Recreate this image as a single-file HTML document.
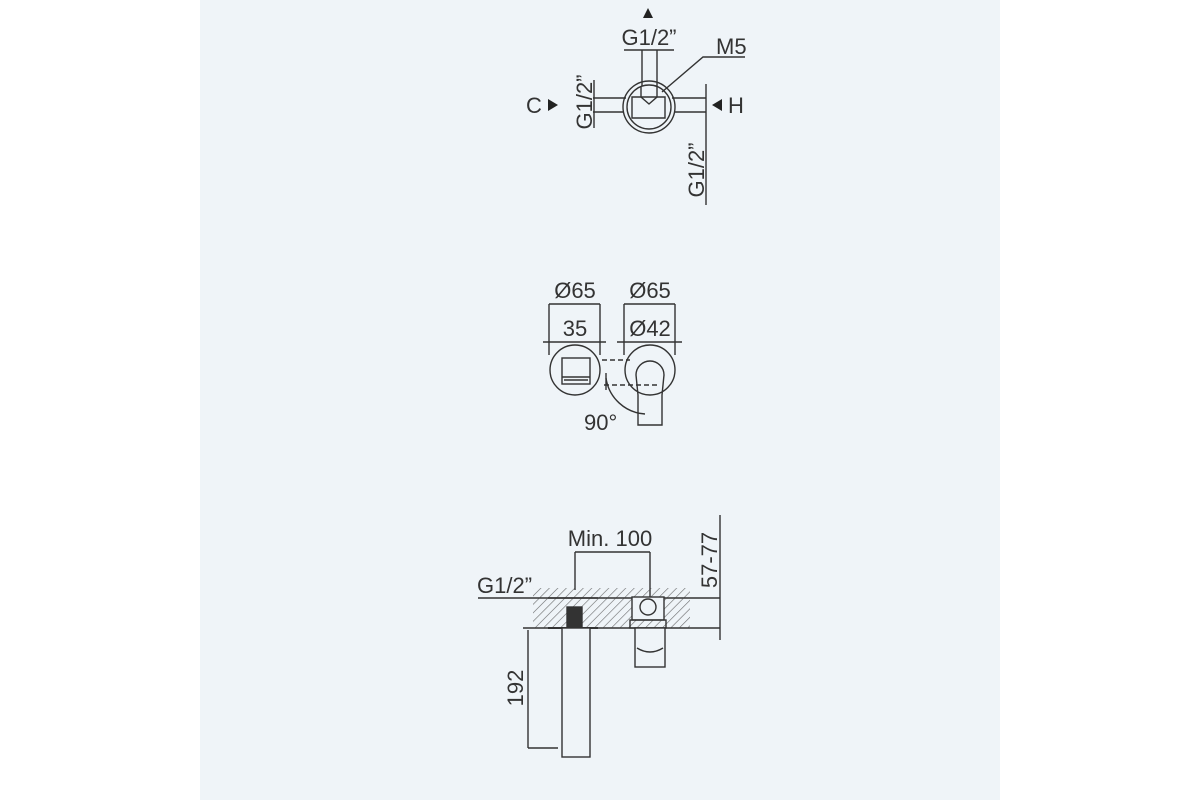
<!DOCTYPE html>
<html><head><style>
html,body{margin:0;padding:0;background:#fff;}
body{width:1200px;height:800px;position:relative;overflow:hidden;}
#p{position:absolute;left:200px;top:0;width:800px;height:800px;background:#eff4f8;}
svg{position:absolute;left:0;top:0;}
text{font-family:"Liberation Sans",sans-serif;fill:#333;}
</style></head><body>
<div id="p"></div>
<svg width="1200" height="800" viewBox="0 0 1200 800">
<defs>
<pattern id="h" width="6" height="6" patternUnits="userSpaceOnUse" patternTransform="rotate(45)">
<line x1="0" y1="0" x2="0" y2="6" stroke="#444" stroke-width="1.2"/>
</pattern>
</defs>
<g stroke="#333" stroke-width="1.4" fill="none">
<line x1="624" y1="50" x2="674" y2="50"/>
<line x1="642" y1="50" x2="642" y2="86"/>
<line x1="657" y1="50" x2="657" y2="86"/>
<circle cx="649" cy="107" r="26"/>
<circle cx="649" cy="107" r="22"/>
<path d="M641 86 V97 L649 104 L657 97 V86"/>
<path d="M632 97 H665 V118 H632 Z"/>
<line x1="593" y1="98" x2="626" y2="98"/><line x1="593" y1="112" x2="624" y2="112"/>
<line x1="672" y1="98" x2="706" y2="98"/><line x1="674" y1="112" x2="706" y2="112"/>
<line x1="594" y1="80" x2="594" y2="128"/>
<line x1="706" y1="84" x2="706" y2="205"/>
<path d="M745 57 H703 L662 92"/>
<line x1="549" y1="304" x2="600" y2="304"/>
<line x1="549" y1="304" x2="549" y2="355"/><line x1="600" y1="304" x2="600" y2="355"/>
<line x1="543" y1="342" x2="606" y2="342"/>
<circle cx="575" cy="370" r="25"/>
<rect x="562" y="358" width="28" height="26"/>
<line x1="562" y1="377" x2="590" y2="377"/><line x1="564" y1="380" x2="588" y2="380"/>
<line x1="624" y1="304" x2="675" y2="304"/>
<line x1="624" y1="304" x2="624" y2="355"/><line x1="675" y1="304" x2="675" y2="355"/>
<line x1="617" y1="342" x2="682" y2="342"/>
<circle cx="650" cy="370" r="25"/>
<path d="M638 425 V395 L636 375 A14 14 0 0 1 664 375 L662 395 V425 Z"/>
<line x1="602" y1="360" x2="630" y2="360" stroke-dasharray="5 3"/>
<path d="M604 385 H660" stroke-dasharray="5 3"/>
<path d="M606 378 A42 42 0 0 0 645 414"/>
<line x1="606" y1="373" x2="606" y2="390"/>
<line x1="575" y1="552" x2="650" y2="552"/>
<line x1="575" y1="552" x2="575" y2="590"/><line x1="650" y1="552" x2="650" y2="600"/>
<line x1="720" y1="515" x2="720" y2="640"/>
<line x1="478" y1="598" x2="720" y2="598"/>
<line x1="523" y1="628" x2="720" y2="628"/>
<line x1="528" y1="630" x2="528" y2="748"/>
<line x1="528" y1="748" x2="558" y2="748"/>
</g>
<rect x="533" y="588" width="157" height="40" fill="url(#h)" opacity="0.8"/>
<g stroke="#333" stroke-width="1.4" fill="none">
<line x1="548" y1="598" x2="598" y2="598"/>
<rect x="567" y="607" width="15" height="21" fill="#333"/>
<line x1="548" y1="628" x2="598" y2="628" stroke-width="2"/>
<rect x="562" y="628" width="28" height="129" fill="#eff4f8"/>
<rect x="632" y="597" width="32" height="23" fill="#eff4f8"/>
<circle cx="648" cy="607" r="8"/>
<rect x="630" y="620" width="36" height="8"/>
<rect x="635" y="628" width="30" height="39" fill="#eff4f8"/>
<path d="M637 648 Q650 656 663 648"/>
</g>
<g fill="#222">
<path d="M643 18 L653 18 L648 8 Z"/>
<path d="M548 99 L548 111 L558 105 Z"/>
<path d="M722 99 L722 111 L712 105 Z"/>
</g>
<g font-size="22">
<text x="649" y="45" text-anchor="middle">G1/2”</text>
<text x="716" y="54">M5</text>
<text x="526" y="113">C</text>
<text x="728" y="113">H</text>
<text transform="translate(592,102) rotate(-90)" text-anchor="middle">G1/2”</text>
<text transform="translate(704,170) rotate(-90)" text-anchor="middle">G1/2”</text>
<text x="575" y="298" text-anchor="middle">Ø65</text>
<text x="650" y="298" text-anchor="middle">Ø65</text>
<text x="575" y="336" text-anchor="middle">35</text>
<text x="650" y="336" text-anchor="middle">Ø42</text>
<text x="584" y="430">90°</text>
<text x="610" y="546" text-anchor="middle">Min. 100</text>
<text x="477" y="593">G1/2”</text>
<text transform="translate(717,560) rotate(-90)" text-anchor="middle">57-77</text>
<text transform="translate(523,688) rotate(-90)" text-anchor="middle">192</text>
</g>
</svg>
</body></html>
